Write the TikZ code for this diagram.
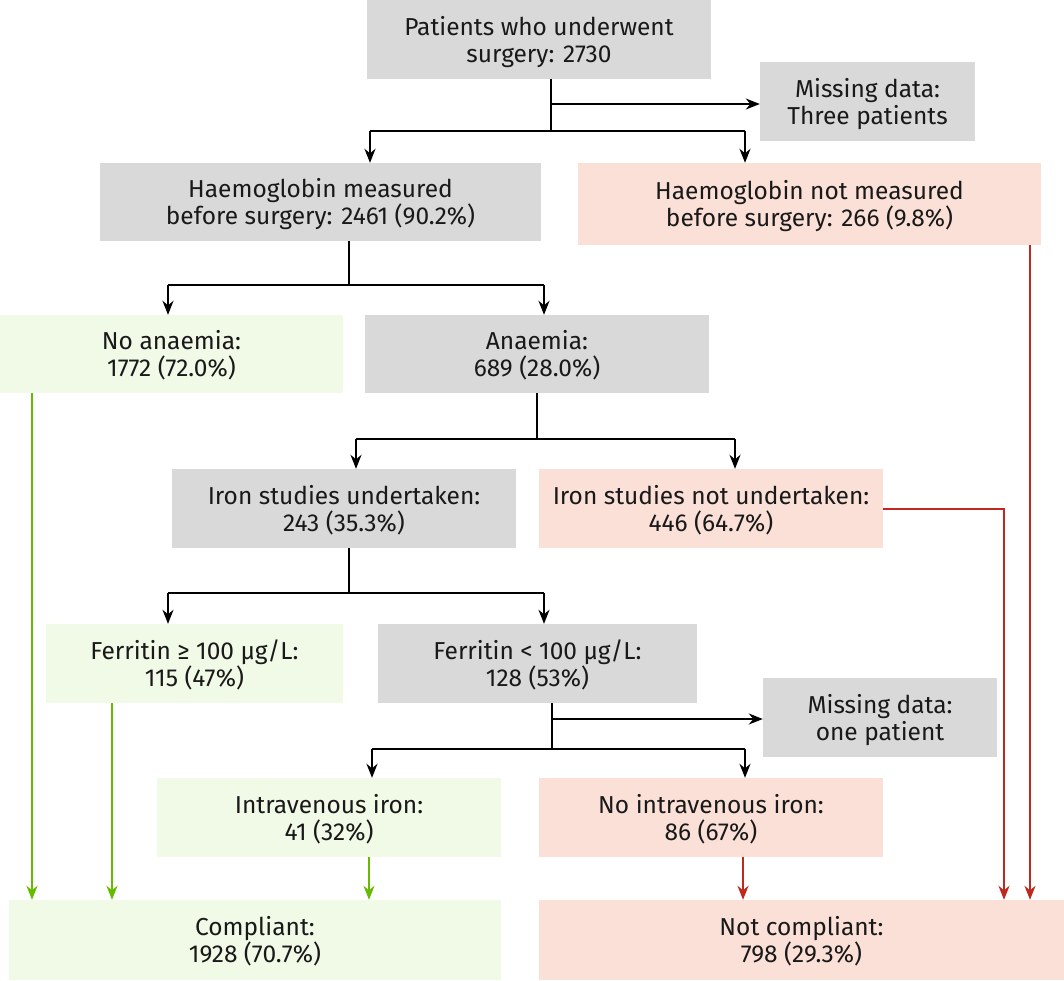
\documentclass[tikz,border=0pt]{standalone}
\usepackage{fontspec}
\setmainfont{Fira Sans}
\usetikzlibrary{arrows.meta,calc}
\definecolor{gbox}{HTML}{D9D9D9}
\definecolor{pbox}{HTML}{FAE0D7}
\definecolor{lbox}{HTML}{F1F9E7}
\definecolor{gline}{HTML}{66BB00}
\definecolor{rline}{HTML}{C0281E}
\newcommand{\toprl}{\rule{0pt}{24pt}}
\newcommand{\botrl}{\rule[-6pt]{0pt}{6pt}}
\begin{document}
\begin{tikzpicture}[x=1pt,y=-1pt,
  box/.style={inner sep=0pt, align=center, font=\fontsize{24.5}{27}\selectfont, text=black!90},
  arr/.style={-{Stealth[length=14pt,width=11pt,inset=4.5pt]}, line width=2pt},
  blk/.style={line width=2pt},
  garr/.style={arr, draw=gline, color=gline},
  rarr/.style={arr, draw=rline, color=rline}]
\useasboundingbox (0,0) rectangle (1064,980);
\newcommand{\bx}[7]{\node[box, fill=#1, minimum width=#4pt, minimum height=#5pt] (#2) at (#3) {\toprl #6\\#7\botrl};}
\bx{gbox}{top}{539,39.5}{344}{79}{Patients who underwent}{surgery: 2730}
\bx{gbox}{missA}{867.5,101.5}{215}{79}{Missing data:}{Three patients}
\bx{gbox}{hbm}{320.5,202}{441}{78}{Haemoglobin measured}{before surgery: 2461 (90.2\%)}
\bx{pbox}{hbn}{809.5,204}{463}{82}{Haemoglobin not measured}{before surgery: 266 (9.8\%)}
\bx{lbox}{noan}{171.5,354}{343}{78}{No anaemia:}{1772 (72.0\%)}
\bx{gbox}{an}{537,354}{344}{78}{Anaemia:}{689 (28.0\%)}
\bx{gbox}{isu}{344,508.5}{344}{79}{Iron studies undertaken:}{243 (35.3\%)}
\bx{pbox}{isn}{711,508.5}{344}{79}{Iron studies not undertaken:}{446 (64.7\%)}
\bx{lbox}{fge}{194.5,663.5}{297}{79}{Ferritin ≥ 100 µg/L:}{115 (47\%)}
\bx{gbox}{flt}{537.5,663.5}{319}{79}{Ferritin < 100 µg/L:}{128 (53\%)}
\bx{gbox}{missB}{880,717.5}{234}{79}{Missing data:}{one patient}
\bx{lbox}{iv}{329,817.5}{344}{79}{Intravenous iron:}{41 (32\%)}
\bx{pbox}{niv}{711,817.5}{344}{79}{No intravenous iron:}{86 (67\%)}
\bx{lbox}{comp}{255,940}{492}{80}{Compliant:}{1928 (70.7\%)}
\bx{pbox}{ncomp}{801.5,940}{525}{80}{Not compliant:}{798 (29.3\%)}
% junction coordinates
\coordinate (j1) at (551,131);
\coordinate (b1) at (551,104);
\coordinate (l1) at (370,131);
\coordinate (r1) at (745,131);
\coordinate (j2) at (349,285);
\coordinate (l2) at (168,285);
\coordinate (r2) at (544,285);
\coordinate (j3) at (537,439);
\coordinate (l3) at (356,439);
\coordinate (r3) at (735,439);
\coordinate (j4) at (349,593);
\coordinate (l4) at (168,593);
\coordinate (r4) at (544,593);
\coordinate (j5) at (552,749);
\coordinate (b5) at (552,719);
\coordinate (l5) at (372,749);
\coordinate (r5) at (745,749);
% black connectors
\draw[blk] (j1 |- top.south) -- (j1);
\draw[arr] (b1) -- (b1 -| missA.west);
\draw[blk] (l1) -- (r1);
\draw[arr] (l1) -- (l1 |- hbm.north);
\draw[arr] (r1) -- (r1 |- hbn.north);
\draw[blk] (j2 |- hbm.south) -- (j2);
\draw[blk] (l2) -- (r2);
\draw[arr] (l2) -- (l2 |- noan.north);
\draw[arr] (r2) -- (r2 |- an.north);
\draw[blk] (j3 |- an.south) -- (j3);
\draw[blk] (l3) -- (r3);
\draw[arr] (l3) -- (l3 |- isu.north);
\draw[arr] (r3) -- (r3 |- isn.north);
\draw[blk] (j4 |- isu.south) -- (j4);
\draw[blk] (l4) -- (r4);
\draw[arr] (l4) -- (l4 |- fge.north);
\draw[arr] (r4) -- (r4 |- flt.north);
\draw[blk] (j5 |- flt.south) -- (j5);
\draw[arr] (b5) -- (b5 -| missB.west);
\draw[blk] (l5) -- (r5);
\draw[arr] (l5) -- (l5 |- iv.north);
\draw[arr] (r5) -- (r5 |- niv.north);
% green connectors
\coordinate (g1) at (32,0);
\coordinate (g2) at (112,0);
\coordinate (g3) at (369,0);
\draw[garr] (g1 |- noan.south) -- (g1 |- comp.north);
\draw[garr] (g2 |- fge.south) -- (g2 |- comp.north);
\draw[garr] (g3 |- iv.south) -- (g3 |- comp.north);
% red connectors
\coordinate (q1) at (743,0);
\coordinate (q2) at (1004,0);
\coordinate (q3) at (1030,0);
\draw[rarr] (q1 |- niv.south) -- (q1 |- ncomp.north);
\draw[rarr] (isn.east) -| (q2 |- ncomp.north);
\draw[rarr] (q3 |- hbn.south) -- (q3 |- ncomp.north);
\end{tikzpicture}
\end{document}
